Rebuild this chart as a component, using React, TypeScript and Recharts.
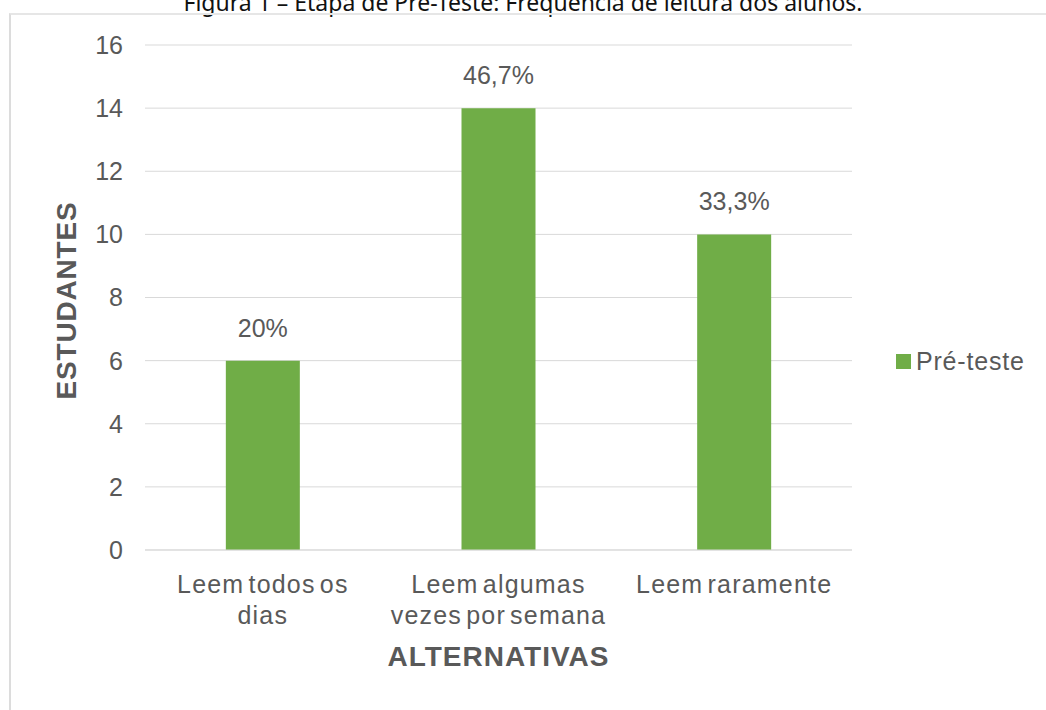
import { BarChart, Bar, XAxis, YAxis, CartesianGrid, Legend, LabelList } from 'recharts';

const categorias = ['Leem todos os\ndias', 'Leem algumas\nvezes por semana', 'Leem raramente'];
const estudantes = [6, 14, 10];
const percentuais = ['20%', '46,7%', '33,3%'];
const yTicks = [0, 2, 4, 6, 8, 10, 12, 14, 16];

const data = categorias.map((c, i) => ({ alternativa: c, estudantes: estudantes[i], pct: percentuais[i] }));

const cinza = '#595959';
const verde = '#70ad47';
const FONT = 'Arial, "Liberation Sans", sans-serif';

function XTick({ x, y, payload }: any) {
  const linhas = String(payload.value).split('\n');
  return (
    <text x={x} y={y} textAnchor="middle" fill={cinza} fontSize={25} fontFamily={FONT} letterSpacing={1.2} wordSpacing={-4}>
      {linhas.map((l, i) => (
        <tspan key={i} x={x} dy={i === 0 ? 43 : 31}>{l}</tspan>
      ))}
    </text>
  );
}

function YTitle({ viewBox }: any) {
  const cy = viewBox.y + viewBox.height / 2 + 3;
  return (
    <text x={66} y={cy} transform={`rotate(-90, 66, ${cy})`} textAnchor="middle" dominantBaseline="central"
      fill={cinza} fontSize={28} fontWeight="bold" fontFamily={FONT} letterSpacing={0.8}>
      ESTUDANTES
    </text>
  );
}

function XTitle({ viewBox }: any) {
  const cx = viewBox.x + viewBox.width / 2;
  return (
    <text x={cx} y={viewBox.y + 116} textAnchor="middle" fill={cinza} fontSize={28} fontWeight="bold" fontFamily={FONT} letterSpacing={1}>
      ALTERNATIVAS
    </text>
  );
}

function Legenda() {
  return (
    <div style={{ width: 140, height: 28, display: 'flex', alignItems: 'center', fontFamily: FONT, fontSize: 25, letterSpacing: 0.8, color: cinza }}>
      <span style={{ width: 15, height: 15, background: verde, marginRight: 5, display: 'inline-block' }} />
      Pré-teste
    </div>
  );
}

export default function App() {
  return (
    <div style={{ position: 'absolute', left: 0, top: 0, width: 1046, height: 710, background: '#fff', overflow: 'hidden' }}>
      <div style={{ position: 'absolute', left: 0, width: 1046, top: -13, textAlign: 'center', fontFamily: '"Noto Sans", sans-serif', fontSize: 23, color: '#111', lineHeight: '30px', whiteSpace: 'nowrap' }}>
        Figura 1 – Etapa de Pré-Teste: Frequência de leitura dos alunos.
      </div>
      <div style={{ position: 'absolute', left: 9, top: 13, width: 1100, height: 760, borderLeft: '2px solid #dcdcdc', borderTop: '2px solid #e6e6e6' }} />
      <div style={{ position: 'absolute', left: 0, top: 0 }}>
        <BarChart width={1046} height={710} data={data} margin={{ top: 45, right: 54, bottom: 0, left: 0 }} barCategoryGap="34.3%">
          <CartesianGrid vertical={false} stroke="#d9d9d9" />
          <XAxis dataKey="alternativa" height={160} interval={0} tickLine={false} tickSize={0} tickMargin={0}
            axisLine={{ stroke: '#d9d9d9' }} tick={<XTick />} label={(p: any) => <XTitle {...p} />} />
          <YAxis width={145} domain={[0, 16]} ticks={yTicks} tickLine={false} axisLine={false} tickSize={0} tickMargin={22}
            tick={{ fill: cinza, fontSize: 25, fontFamily: FONT }} label={(p: any) => <YTitle {...p} />} />
          <Legend layout="vertical" align="right" verticalAlign="middle" content={() => <Legenda />}
            wrapperStyle={{ left: 896, top: 347, right: 'auto', width: 140 }} />
          <Bar dataKey="estudantes" name="Pré-teste" fill={verde} isAnimationActive={false}>
            <LabelList dataKey="pct" position="top" offset={24} fill={cinza} fontSize={25} fontFamily={FONT} />
          </Bar>
        </BarChart>
      </div>
    </div>
  );
}
